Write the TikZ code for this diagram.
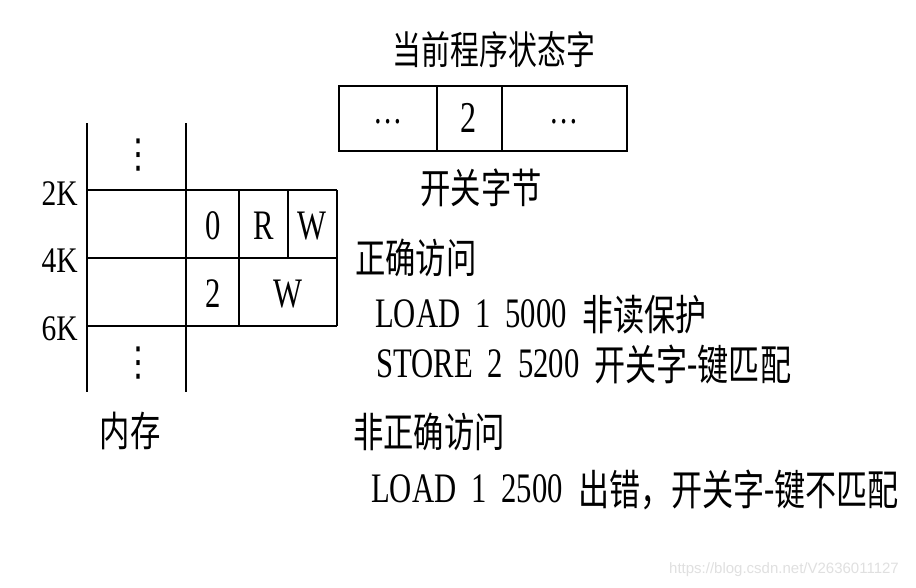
\documentclass[tikz,border=0pt]{standalone}
\usepackage{fontspec}
\setmainfont{Liberation Serif}[FakeStretch=0.73]
\newfontfamily\lblfont{Liberation Serif}[FakeStretch=0.82]
\newfontfamily\cjk{Noto Sans CJK SC}[FakeStretch=0.74]
\newfontfamily\wmfont{Liberation Sans}
\newfontfamily\dvfont{DejaVu Sans}[FakeStretch=0.8]
\newcommand\wgap{\hspace{15pt}}
\newcommand\cj[1]{\raisebox{-3pt}{\cjk #1}}
\begin{document}
\begin{tikzpicture}[x=1pt,y=-1pt,
  mem/.style={line width=1.8pt},
  lbl/.style={inner sep=0pt, font=\fontsize{36}{40}\selectfont\lblfont},
  cell/.style={inner sep=0pt, font=\fontsize{42}{46}\selectfont},
  txt/.style={inner sep=0pt, anchor=base west, font=\fontsize{42}{46}\selectfont},
  cjkt/.style={inner sep=0pt, font=\fontsize{41}{46}\selectfont\cjk},
  dotcol/.style={inner sep=0pt, font=\fontsize{40}{46}\selectfont},
  vdot/.style={inner sep=0pt, font=\fontsize{40}{46}\selectfont\dvfont}]
\useasboundingbox (0,0) rectangle (916,587);
\fill[white] (0,0) rectangle (916,587);
% memory column
\draw[mem] (87,123) -- (87,392);
\draw[mem] (186,123) -- (186,392);
\draw[mem] (87,190) -- (337,190);
\draw[mem] (87,258) -- (337,258);
\draw[mem] (87,326) -- (337,326);
\draw[mem] (337,190) -- (337,326);
\draw[mem] (239,190) -- (239,326);
\draw[mem] (288,190) -- (288,258);
\node[vdot] (vd1) at (138,155) {⋮};
\node[vdot] (vd2) at (138,363) {⋮};
\node[lbl, anchor=east] (k2) at (78,194) {2K};
\node[lbl, anchor=east] (k4) at (78,261) {4K};
\node[lbl, anchor=east] (k6) at (78,329) {6K};
\node[cell] (c0) at (213,226) {0};
\node[cell] (cr) at (264,226) {R};
\node[cell] (cw1) at (312,226) {W};
\node[cell] (c2) at (213,294) {2};
\node[cell] (cw2) at (288,294) {W};
\node[cjkt] (nc) at (130,431) {内存};
% PSW
\draw[mem] (339,86) rectangle (627,151);
\draw[mem] (437,86) -- (437,151);
\draw[mem] (502,86) -- (502,151);
\node[cjkt, font=\fontsize{39}{44}\selectfont\cjk] (title) at (494,50) {当前程序状态字};
\node[dotcol, anchor=base] (p1) at (388,123) {\ldots};
\node[cell, font=\fontsize{44}{48}\selectfont] (p2) at (469,118) {2};
\node[dotcol, anchor=base] (p3) at (564,123) {\ldots};
\node[cjkt] (kg) at (481,188) {开关字节};
% text
\node[cjkt, anchor=west] (ok) at (355,258) {正确访问};
\node[txt] (l1) at (375,327) {LOAD\wgap 1\wgap 5000\wgap\cj{非读保护}};
\node[txt] (l2) at (376,377) {STORE\wgap 2\wgap 5200\wgap\cj{开关字}-\cj{键匹配}};
\node[cjkt, anchor=west] (bad) at (353,432) {非正确访问};
\node[txt] (l3) at (371,502) {LOAD\wgap 1\wgap 2500\wgap\cj{出错，开关字}-\cj{键不匹配}};
\node[inner sep=0pt, text=black!12, font=\fontsize{15}{18}\selectfont\wmfont] (wm) at (784,570) {https://blog.csdn.net/V2636011127};
\end{tikzpicture}
\end{document}
